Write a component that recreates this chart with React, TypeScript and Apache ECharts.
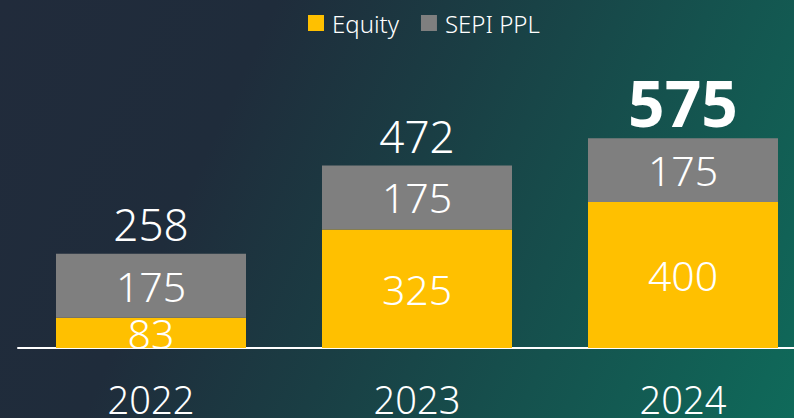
import React, { useEffect, useRef } from "react";
import * as echarts from "echarts";

const categories = ["2022", "2023", "2024"];
const equity = [83, 325, 400];
const sepiPpl = [175, 175, 175];
const totalLabels = ["258", "472", "575"];
const highlightIndex = 2;

const FONT = "'Noto Sans', 'Open Sans', 'DejaVu Sans', sans-serif";

export default function App() {
  const ref = useRef<HTMLDivElement>(null);

  useEffect(() => {
    document.body.style.margin = "0";
    if (!ref.current) return;
    const chart = echarts.init(ref.current, null, { renderer: "svg" });
    chart.setOption({
      animation: false,
      textStyle: { fontFamily: FONT },
      legend: {
        data: ["Equity", "SEPI PPL"],
        left: 303,
        top: 6,
        itemWidth: 16,
        itemHeight: 16,
        itemGap: 22,
        icon: "rect",
        textStyle: { color: "#ffffff", fontSize: 24, fontFamily: FONT, fontWeight: 300, padding: [0, 0, 0, 3] },
      },
      grid: { left: 18, width: 798, top: 129, height: 219, outerBoundsMode: "none", containLabel: false },
      xAxis: {
        type: "category",
        data: categories,
        axisTick: { show: false },
        axisLine: { lineStyle: { color: "#ffffff", width: 2 } },
        axisLabel: { color: "#ffffff", fontSize: 38, margin: 32, fontFamily: FONT, fontWeight: 300 },
      },
      yAxis: { type: "value", min: 0, max: 600, show: false, splitLine: { show: false } },
      series: [
        {
          name: "Equity",
          type: "bar",
          stack: "total",
          barWidth: 190,
          data: equity,
          itemStyle: { color: "#FFC000" },
          label: { show: true, position: "inside", color: "#ffffff", fontSize: 41, fontFamily: FONT, fontWeight: 300 },
        },
        {
          name: "SEPI PPL",
          type: "bar",
          stack: "total",
          barWidth: 190,
          data: sepiPpl,
          itemStyle: { color: "#7F7F7F" },
          label: { show: true, position: "inside", color: "#ffffff", fontSize: 41, fontFamily: FONT, fontWeight: 300 },
        },
        {
          name: "Total",
          type: "bar",
          stack: "total",
          barWidth: 190,
          data: totalLabels.map((t, i) => ({
            value: 0,
            label:
              i === highlightIndex
                ? { fontSize: 64, fontWeight: "bold", distance: 4 }
                : { fontSize: 44, fontWeight: 300, distance: 8 },
          })),
          itemStyle: { color: "transparent" },
          label: {
            show: true,
            position: "top",
            color: "#ffffff",
            fontFamily: FONT,
            formatter: (p: any) => totalLabels[p.dataIndex],
          },
        },
      ],
    });
    return () => chart.dispose();
  }, []);

  return (
    <div
      ref={ref}
      style={{
        width: 794,
        height: 418,
        background:
          "linear-gradient(115deg, #212b3b 0%, #1f2c3b 28%, #1a3e44 50%, #15524e 72%, #0f6a5a 100%)",
      }}
    />
  );
}
